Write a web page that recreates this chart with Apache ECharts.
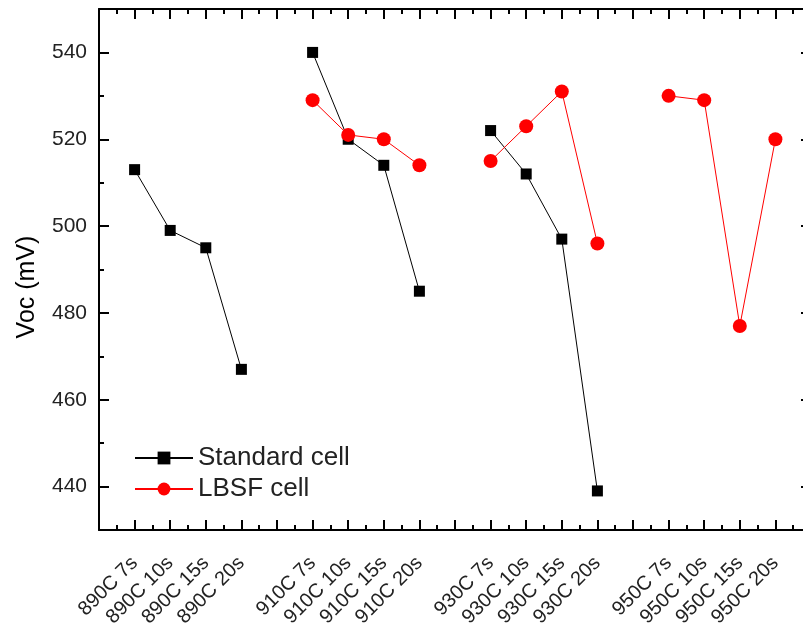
<!DOCTYPE html>
<html>
<head>
<meta charset="utf-8">
<script src="https://cdn.jsdelivr.net/npm/echarts@6/dist/echarts.min.js"></script>
<style>html,body{margin:0;padding:0;background:#fff;}#c{width:803px;height:625px;}</style>
</head>
<body>
<div id="c"></div>
<script>
// Categories (blank entries are gaps between temperature groups)
var categories = ['890C 7s','890C 10s','890C 15s','890C 20s','',
                  '910C 7s','910C 10s','910C 15s','910C 20s','',
                  '930C 7s','930C 10s','930C 15s','930C 20s','',
                  '950C 7s','950C 10s','950C 15s','950C 20s'];
var standardCell = [513,499,495,467,null, 540,520,514,485,null, 522,512,497,439,null, null,null,null,null];
var lbsfCell     = [null,null,null,null,null, 529,521,520,514,null, 515,523,531,496,null, 530,529,477,520];
var yMajorTicks = [440,460,480,500,520,540];

function toData(arr){ return arr.map(function(v,i){ return [i, v == null ? '-' : v]; }); }

var FONT = 'Liberation Sans, Arial, sans-serif';
var axisLineStyle = {color:'#000', width:2};
function gridRect(){ return {left:99, right:-8, top:9, bottom:95, containLabel:false, outerBoundsMode:'none'}; }

function xAxisCfg(pos, showLabel){
  return {
    type:'value', gridIndex:0, position:pos, offset:0, min:-1, max:categories.length, interval:1,
    axisLine:{show:true, onZero:false, lineStyle:axisLineStyle},
    axisTick:{show:true, inside:true, length:10, lineStyle:{color:'#000', width:2}},
    minorTick:{show:true, splitNumber:2, length:5, lineStyle:{color:'#000', width:2}},
    splitLine:{show:false}, minorSplitLine:{show:false},
    axisLabel:{show:showLabel, rotate:45, margin:30, fontFamily:FONT, fontSize:20, color:'#222',
      formatter:function(v){ var i=Math.round(v); return (i>=0 && i<categories.length) ? categories[i] : ''; }}
  };
}
// helper x axes (hidden) whose zero sits at the left / right edge of the plot
function helperX(grid, mn, mx){
  return {type:'value', gridIndex:grid, min:mn, max:mx,
          axisLine:{show:false, onZero:false}, axisTick:{show:false}, axisLabel:{show:false}, splitLine:{show:false}};
}
function yAxisMinor(pos, showLabel){
  return {
    type:'value', gridIndex:0, position:pos, offset:0, min:430, max:550, interval:10,
    axisLine:{show:true, onZero:false, lineStyle:axisLineStyle},
    axisTick:{show:true, inside:true, length:5, lineStyle:{color:'#000', width:2}},
    splitLine:{show:false},
    axisLabel:{show:showLabel, customValues:yMajorTicks, margin:12, fontFamily:FONT, fontSize:21, color:'#222'}
  };
}
function yAxisMajor(grid, pos){
  return {
    type:'value', gridIndex:grid, position:pos, min:430, max:550,
    axisLine:{show:false},
    axisTick:{show:true, inside:true, length:10, customValues:yMajorTicks, lineStyle:{color:'#000', width:2}},
    splitLine:{show:false},
    axisLabel:{show:false}
  };
}

var chart = echarts.init(document.getElementById('c'), null, {renderer:'canvas'});
chart.setOption({
  animation:false,
  backgroundColor:'#fff',
  grid:[gridRect(), gridRect(), gridRect()],
  xAxis:[xAxisCfg('bottom', true), xAxisCfg('top', false), helperX(1, 0, 1), helperX(2, -1, 0)],
  yAxis:[yAxisMinor('left', true), yAxisMinor('right', false), yAxisMajor(1, 'left'), yAxisMajor(2, 'right')],
  legend:{
    orient:'vertical', left:129, top:440, itemWidth:58, itemHeight:16, itemGap:5,
    textStyle:{fontFamily:FONT, fontSize:26, color:'#222'},
    data:['Standard cell','LBSF cell']
  },
  graphic:[{
    type:'text', x:27, y:287, rotation:Math.PI/2,
    style:{text:'Voc (mV)', fontFamily:FONT, fontSize:25, fill:'#000', textAlign:'center', textVerticalAlign:'middle'}
  }],
  series:[
    {name:'Standard cell', type:'line', xAxisIndex:0, yAxisIndex:0, data:toData(standardCell),
     symbol:'rect', symbolSize:11, connectNulls:false,
     itemStyle:{color:'#000'}, lineStyle:{color:'#000', width:1}},
    {name:'LBSF cell', type:'line', xAxisIndex:0, yAxisIndex:0, data:toData(lbsfCell),
     symbol:'circle', symbolSize:14, connectNulls:false,
     itemStyle:{color:'#ff0000'}, lineStyle:{color:'#ff0000', width:1}},
    {name:'_ticksL', type:'line', xAxisIndex:2, yAxisIndex:2, data:[], silent:true, showSymbol:false},
    {name:'_ticksR', type:'line', xAxisIndex:3, yAxisIndex:3, data:[], silent:true, showSymbol:false}
  ]
});
</script>
</body>
</html>
